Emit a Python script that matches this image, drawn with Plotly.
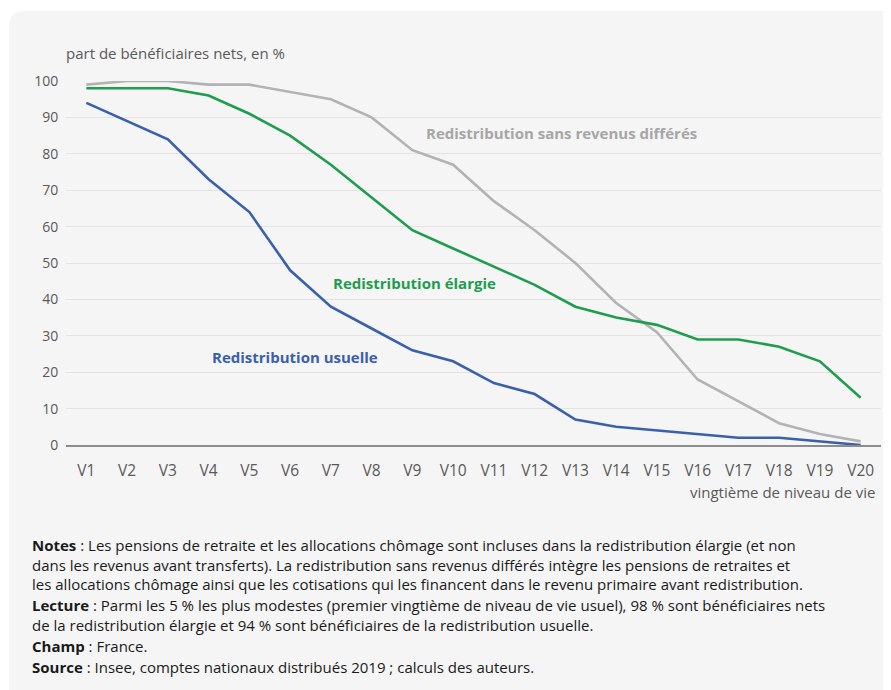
import plotly.graph_objects as go

categories = [f"V{i}" for i in range(1, 21)]
sans_differes = [99, 100, 100, 99, 99, 97, 95, 90, 81, 77, 67, 59, 50, 39, 31, 18, 12, 6, 3, 1]
elargie = [98, 98, 98, 96, 91, 85, 77, 68, 59, 54, 49, 44, 38, 35, 33, 29, 29, 27, 23, 13]
usuelle = [94, 89, 84, 73, 64, 48, 38, 32, 26, 23, 17, 14, 7, 5, 4, 3, 2, 2, 1, 0]
y_ticks = list(range(0, 101, 10))

# page has an 8px body margin; figure sized to fit the window
OFF = 8
W, H = 891 - OFF, 690 - OFF
PL, PR, PT, PB = 66, 881, 81, 445  # plot area in page pixels
L = PL - OFF
R = W - (PR - OFF)
T = PT - OFF
B = H - (PB - OFF)
PW = PR - PL
PH = PB - PT

def px(x):
    return (x - PL) / PW

def py(y):
    return (PB - y) / PH

GREY = "#b3b3b3"
GREEN = "#1f9d4f"
BLUE = "#3a60ad"
TXT = "#595959"
FONT = "Open Sans"

fig = go.Figure()
fig.add_trace(go.Scatter(x=categories, y=sans_differes, mode="lines",
                         line=dict(color=GREY, width=2.6), showlegend=False))
fig.add_trace(go.Scatter(x=categories, y=elargie, mode="lines",
                         line=dict(color=GREEN, width=2.6), showlegend=False))
fig.add_trace(go.Scatter(x=categories, y=usuelle, mode="lines",
                         line=dict(color=BLUE, width=2.6), showlegend=False))

# card background with rounded top-left corner
x0, y0, x1, y1 = 9, 11, 905, 705
r = 16
path = (f"M {px(x0)},{py(y0 + r)} Q {px(x0)},{py(y0)} {px(x0 + r)},{py(y0)} "
        f"L {px(x1)},{py(y0)} L {px(x1)},{py(y1)} L {px(x0)},{py(y1)} Z")
fig.add_shape(type="path", path=path, xref="paper", yref="paper",
              fillcolor="#f5f5f5", line=dict(width=0), layer="below")

ann = []
ann.append(dict(x=px(64), y=py(53), xref="paper", yref="paper", xanchor="left", yanchor="middle",
                text="part de bénéficiaires nets, en %", showarrow=False,
                font=dict(family=FONT, size=15, color=TXT)))
ann.append(dict(x=px(877), y=py(492), xref="paper", yref="paper", xanchor="right", yanchor="middle",
                text="vingtième de niveau de vie", showarrow=False,
                font=dict(family=FONT, size=15, color=TXT)))
ann.append(dict(x=px(424), y=py(133), xref="paper", yref="paper", xanchor="left", yanchor="middle",
                text="<b>Redistribution sans revenus différés</b>", showarrow=False,
                font=dict(family=FONT, size=15, color="#a6a6a6")))
ann.append(dict(x=px(331), y=py(283), xref="paper", yref="paper", xanchor="left", yanchor="middle",
                text="<b>Redistribution élargie</b>", showarrow=False,
                font=dict(family=FONT, size=15, color=GREEN)))
ann.append(dict(x=px(210), y=py(357), xref="paper", yref="paper", xanchor="left", yanchor="middle",
                text="<b>Redistribution usuelle</b>", showarrow=False,
                font=dict(family=FONT, size=15, color=BLUE)))

notes_blocks = [
    (533.5, ["<b>Notes</b> : Les pensions de retraite et les allocations chômage sont incluses dans la redistribution élargie (et non",
             "dans les revenus avant transferts). La redistribution sans revenus différés intègre les pensions de retraites et",
             "les allocations chômage ainsi que les cotisations qui les financent dans le revenu primaire avant redistribution."]),
    (593.5, ["<b>Lecture</b> : Parmi les 5 % les plus modestes (premier vingtième de niveau de vie usuel), 98 % sont bénéficiaires nets",
             "de la redistribution élargie et 94 % sont bénéficiaires de la redistribution usuelle."]),
    (634.5, ["<b>Champ</b> : France."]),
    (655.5, ["<b>Source</b> : Insee, comptes nationaux distribués 2019 ; calculs des auteurs."]),
]
for ytop, lines in notes_blocks:
    ann.append(dict(x=px(31), y=py(ytop), xref="paper", yref="paper", xanchor="left", yanchor="top",
                    align="left", text="<br>".join(lines), showarrow=False,
                    borderpad=0,
                    font=dict(family=FONT, size=15, color="#1a1a1a")))

fig.update_layout(
    width=W, height=H,
    margin=dict(l=L, r=R, t=T, b=B),
    paper_bgcolor="white",
    plot_bgcolor="rgba(0,0,0,0)",
    font=dict(family=FONT, size=14, color=TXT),
    annotations=ann,
    xaxis=dict(type="category", range=[-0.5, 19.5], showgrid=False, zeroline=False,
               showline=True, linecolor="#8c8c8c", linewidth=1.5,
               ticks="outside", ticklen=11, tickcolor="rgba(0,0,0,0)",
               tickfont=dict(family=FONT, size=15.5, color=TXT)),
    yaxis=dict(range=[0, 100], tickvals=y_ticks, showgrid=True, gridcolor="#e3e3e3", gridwidth=1,
               zeroline=False, showline=False,
               ticks="outside", ticklen=4, tickcolor="rgba(0,0,0,0)",
               tickfont=dict(family=FONT, size=14, color=TXT)),
)
fig.write_html("out.html")
